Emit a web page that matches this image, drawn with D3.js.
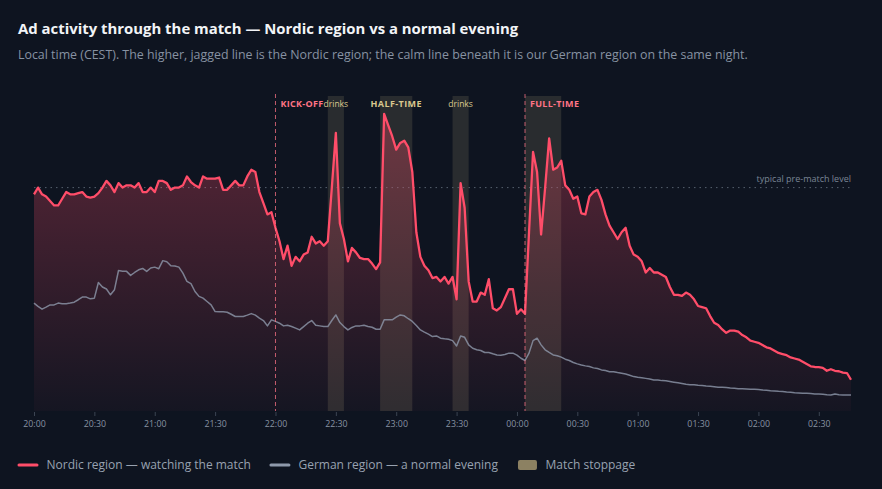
<!DOCTYPE html>
<html lang="en">
<head>
    <meta charset="UTF-8">
    <title>Ad activity through the match</title>
    <style>
        html, body {
            margin: 0;
            padding: 0;
            background: #0e1420;
        }
        svg {
            display: block;
            font-family: "Open Sans", "Noto Sans", sans-serif;
        }
    </style>
</head>
<body>
    <div id="chart"></div>

    <script src="https://d3js.org/d3.v7.min.js"></script>
    <script>
        // series start at 20:00 local time, one reading every 2 minutes
        const startTime = '2024-07-01T20:00'
        const stepMinutes = 2

        // Nordic region, index where 100 = typical pre-match level
        const nordic = [
            97, 100, 97, 96, 94, 92, 92, 95, 98, 97,
            97, 97.5, 98, 96, 95.5, 96, 97.5, 100, 103, 101,
            98, 102, 100, 101, 101, 100, 102, 98, 98, 100,
            98, 103, 103, 102, 99, 100, 100, 101, 105, 102.5,
            101, 100, 105, 104, 104, 104, 104.5, 99, 99, 101,
            103, 101, 101, 105, 108, 107, 98, 93, 88, 89,
            82, 76, 68, 74, 65, 69, 67, 70, 71, 78,
            75, 76, 74, 76, 100, 124.5, 84, 77, 67, 73,
            71, 68.5, 68, 68, 66, 63.5, 66.5, 133, 128, 123,
            117, 120, 121, 118, 107, 80, 69, 65, 63, 59.5,
            60, 58, 60, 57, 60, 50, 102, 91, 58, 49,
            49, 53, 52, 59, 46, 45, 46.5, 50.5, 54.5, 54.5,
            43.5, 45.5, 43.5, 80, 116, 107, 79, 100, 122, 108,
            109, 112, 101, 99, 95, 96, 88.5, 88, 96, 98,
            99, 94.5, 88, 83, 80, 77, 80, 82, 74, 70,
            69, 67, 62, 64, 62, 62, 61, 60, 55.5, 52,
            52, 51.5, 53, 52, 50, 47, 46.5, 46, 42.5, 39.5,
            38.5, 36.5, 35, 36, 36, 35.5, 34, 33, 31.5, 31,
            30.5, 29.5, 28.5, 28, 27, 26, 25.5, 25, 24, 23.5,
            23, 22, 21, 20, 19.7, 19.6, 19.3, 18, 18.7, 18,
            17.8, 17.2, 17, 14
        ]

        // German region, same night, same index
        const german = [
            48.3, 46.8, 45.6, 46.5, 47.5, 47.5, 48.3, 48, 48, 48.3,
            48.7, 49.8, 51, 51, 50.2, 50.5, 57.5, 55.5, 54.6, 52,
            54.3, 62.9, 62.6, 62.5, 60.7, 62, 63.2, 63.8, 62.5, 64,
            64.4, 63.7, 67.3, 66.8, 65, 64.9, 64.4, 61.7, 58, 57,
            53.5, 51.3, 50.5, 49, 47.5, 44.5, 44.4, 44.4, 44.2, 43.3,
            42.3, 42.3, 42.3, 42.9, 43.6, 42.9, 41.6, 40.5, 38.1, 40.8,
            40.1, 39.3, 38.1, 38.4, 37.8, 37.1, 36.3, 37.8, 39.3, 40.5,
            38.4, 38.1, 37.8, 37.8, 40.5, 43, 39.6, 37.8, 36.3, 37.4,
            38.1, 38.1, 38.4, 37.8, 37.5, 36.6, 36.6, 40.8, 40.8, 40.8,
            42, 43, 42.6, 41.3, 40.1, 38.3, 36.3, 35.3, 34.4, 33.3,
            33.6, 32.6, 32.3, 32.1, 31.5, 29.1, 33.6, 33, 29.6, 28.1,
            27.4, 27.1, 26.2, 26.2, 25.6, 25.1, 25, 25.3, 25.9, 25.9,
            25, 23.6, 22.6, 25.9, 31.5, 32.6, 29.6, 27.4, 26.2, 25.1,
            24.7, 24.1, 23.2, 22.6, 21.7, 21.1, 20.6, 20.2, 19.9, 19.3,
            19, 18.4, 18.1, 17.6, 17.6, 17.2, 16.9, 16.6, 16, 15.4,
            15.1, 14.9, 14.6, 14.3, 13.9, 13.9, 13.6, 13.5, 13.2, 12.9,
            12.6, 12.3, 12, 11.8, 11.7, 11.5, 11.4, 11.2, 11.1, 10.9,
            10.6, 10.6, 10.5, 10.3, 10.2, 10, 10, 9.9, 9.7, 9.7,
            9.6, 9.4, 9.3, 9.1, 9, 8.8, 8.7, 8.5, 8.4, 8.2,
            8.1, 7.9, 7.9, 7.8, 7.6, 7.6, 7.5, 7.3, 7.2, 7.6,
            7.3, 7.2, 7.2, 7.2
        ]

        // stoppages in the match (shaded bands)
        const stoppageLabels = ['drinks', 'HALF-TIME', 'drinks', '']
        const stoppageFrom = ['2024-07-01T22:26', '2024-07-01T22:52', '2024-07-01T23:28', '2024-07-02T00:04']
        const stoppageTo = ['2024-07-01T22:34', '2024-07-01T23:08', '2024-07-01T23:36', '2024-07-02T00:22']

        // key moments (dashed lines)
        const eventLabels = ['KICK-OFF', 'FULL-TIME']
        const eventTimes = ['2024-07-01T22:00', '2024-07-02T00:04']

        const typicalLevel = 100
        const yMax = 141

        const legendLabels = ['Nordic region — watching the match', 'German region — a normal evening', 'Match stoppage']

        const width = 882
        const height = 489
        const margin = { top: 96, right: 31, bottom: 78, left: 34 }
        const bgColor = '#0e1420'
        const nordicColor = '#ff4d69'
        const germanColor = '#8e99ab'
        const eventColor = '#ff7486'
        const stoppageColor = '#b3a47a'
        const swatchColor = '#8c8162'
        const mutedText = '#8792a2'

        const parse = d3.timeParse('%Y-%m-%dT%H:%M')
        const t0 = parse(startTime)
        const times = nordic.map((_, i) => d3.timeMinute.offset(t0, i * stepMinutes))

        const x = d3.scaleTime()
            .domain([times[0], times[times.length - 1]])
            .range([margin.left, width - margin.right])

        const y = d3.scaleLinear()
            .domain([0, yMax])
            .range([height - margin.bottom, margin.top])

        const svg = d3.select('#chart')
            .append('svg')
            .attr('width', width)
            .attr('height', height)

        svg.append('rect')
            .attr('width', width)
            .attr('height', height)
            .attr('fill', bgColor)

        // title + subtitle
        svg.append('text')
            .attr('x', 18)
            .attr('y', 34)
            .attr('fill', '#f2f4f7')
            .style('font-size', '14.9px')
            .style('font-weight', 700)
            .text('Ad activity through the match — Nordic region vs a normal evening')

        svg.append('text')
            .attr('x', 18)
            .attr('y', 59)
            .attr('fill', mutedText)
            .style('font-size', '12.4px')
            .text('Local time (CEST). The higher, jagged line is the Nordic region; the calm line beneath it is our German region on the same night.')

        // gradient for the Nordic area
        const grad = svg.append('defs')
            .append('linearGradient')
            .attr('id', 'nordic-fill')
            .attr('gradientUnits', 'userSpaceOnUse')
            .attr('x1', 0).attr('x2', 0)
            .attr('y1', y(yMax)).attr('y2', y(0))
        grad.append('stop').attr('offset', '0%').attr('stop-color', nordicColor).attr('stop-opacity', 0.34)
        grad.append('stop').attr('offset', '100%').attr('stop-color', nordicColor).attr('stop-opacity', 0.03)

        // stoppage bands
        const bands = stoppageLabels.map((label, i) => ({
            label,
            from: parse(stoppageFrom[i]),
            to: parse(stoppageTo[i])
        }))

        svg.append('g')
            .selectAll('rect')
            .data(bands)
            .join('rect')
            .attr('x', d => x(d.from))
            .attr('width', d => x(d.to) - x(d.from))
            .attr('y', y(yMax))
            .attr('height', y(0) - y(yMax))
            .attr('fill', stoppageColor)
            .attr('opacity', 0.17)

        // typical pre-match level
        svg.append('line')
            .attr('x1', x.range()[0])
            .attr('x2', x.range()[1])
            .attr('y1', y(typicalLevel))
            .attr('y2', y(typicalLevel))
            .attr('stroke', '#56606e')
            .attr('stroke-width', 1)
            .attr('stroke-dasharray', '1.5,4')

        svg.append('text')
            .attr('x', x.range()[1])
            .attr('y', y(typicalLevel) - 6)
            .attr('text-anchor', 'end')
            .attr('fill', '#7a8595')
            .style('font-size', '9px')
            .text('typical pre-match level')

        // Nordic area + lines
        const nordicData = nordic.map((v, i) => ({ t: times[i], v }))
        const germanData = german.map((v, i) => ({ t: times[i], v }))

        svg.append('path')
            .datum(nordicData)
            .attr('fill', 'url(#nordic-fill)')
            .attr('d', d3.area().x(d => x(d.t)).y0(y(0)).y1(d => y(d.v)))

        svg.append('path')
            .datum(germanData)
            .attr('fill', 'none')
            .attr('stroke', germanColor)
            .attr('stroke-opacity', 0.8)
            .attr('stroke-width', 1.5)
            .attr('stroke-linejoin', 'round')
            .attr('d', d3.line().x(d => x(d.t)).y(d => y(d.v)))

        svg.append('path')
            .datum(nordicData)
            .attr('fill', 'none')
            .attr('stroke', nordicColor)
            .attr('stroke-width', 2.3)
            .attr('stroke-linejoin', 'round')
            .attr('d', d3.line().x(d => x(d.t)).y(d => y(d.v)))

        // event lines
        const events = eventLabels.map((label, i) => ({ label, t: parse(eventTimes[i]) }))

        svg.append('g')
            .selectAll('line')
            .data(events)
            .join('line')
            .attr('x1', d => x(d.t))
            .attr('x2', d => x(d.t))
            .attr('y1', y(yMax) - 2)
            .attr('y2', y(0))
            .attr('stroke', eventColor)
            .attr('stroke-opacity', 0.75)
            .attr('stroke-width', 1)
            .attr('stroke-dasharray', '4,3')

        svg.append('g')
            .selectAll('text')
            .data(events)
            .join('text')
            .attr('x', d => x(d.t) + 5)
            .attr('y', 106.5)
            .attr('fill', eventColor)
            .style('font-size', '9px')
            .style('font-weight', 700)
            .style('letter-spacing', '0.3px')
            .text(d => d.label)

        svg.append('g')
            .selectAll('text')
            .data(bands.filter(d => d.label))
            .join('text')
            .attr('x', d => (x(d.from) + x(d.to)) / 2)
            .attr('y', 106.5)
            .attr('text-anchor', 'middle')
            .attr('fill', '#d9c88e')
            .style('font-size', d => d.label === 'drinks' ? '8.5px' : '9px')
            .style('font-weight', d => d.label === 'drinks' ? 400 : 700)
            .style('letter-spacing', d => d.label === 'drinks' ? '0px' : '0.4px')
            .text(d => d.label)

        // x axis
        const xAxis = d3.axisBottom(x)
            .ticks(d3.timeMinute.every(30))
            .tickFormat(d3.timeFormat('%H:%M'))
            .tickSize(4)
            .tickPadding(5)

        svg.append('g')
            .attr('transform', `translate(0, ${y(0) + 1})`)
            .call(xAxis)
            .call(g => g.select('.domain').remove())
            .call(g => g.selectAll('line').attr('stroke', '#3b4452'))
            .call(g => g.selectAll('text')
                .attr('fill', mutedText)
                .style('font-size', '8.8px')
                .style('font-family', '"Open Sans", sans-serif'))

        // legend
        const legend = svg.append('g')
            .attr('transform', 'translate(19, 465)')
        let lx = 0
        legendLabels.forEach((label, i) => {
            const item = legend.append('g').attr('transform', `translate(${lx}, 0)`)
            if (i < 2) {
                item.append('line')
                    .attr('x1', 0).attr('x2', 18)
                    .attr('stroke', i === 0 ? nordicColor : germanColor)
                    .attr('stroke-width', 3)
                    .attr('stroke-linecap', 'round')
            } else {
                item.append('rect')
                    .attr('x', 0).attr('y', -5)
                    .attr('width', 19).attr('height', 10)
                    .attr('rx', 2)
                    .attr('fill', swatchColor)
            }
            const txt = item.append('text')
                .attr('x', 27.5)
                .attr('dy', '0.35em')
                .attr('fill', '#98a2b0')
                .style('font-size', '12px')
                .text(label)
            lx += 27.5 + txt.node().getComputedTextLength() + 20
        })
    </script>
</body>
</html>
